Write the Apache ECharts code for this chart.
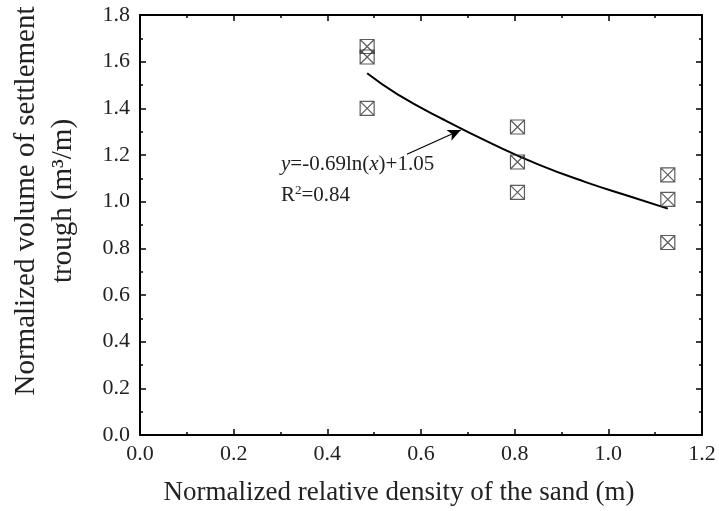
<!DOCTYPE html>
<html>
<head>
<meta charset="utf-8">
<script src="https://cdn.jsdelivr.net/npm/echarts@6/dist/echarts.min.js"></script>
<style>
  html, body { margin: 0; padding: 0; background: #fff; }
  #chart { width: 719px; height: 511px; }
</style>
</head>
<body>
<div id="chart"></div>
<script>
// measured points (x, y)
var xPos = [0.485, 0.485, 0.485, 0.806, 0.806, 0.806, 1.127, 1.127, 1.127];
var yVal = [1.665, 1.62, 1.40, 1.32, 1.17, 1.04, 1.115, 1.01, 0.825];

// fitted curve
var fitX = [0.485, 0.55, 0.65, 0.75, 0.85, 0.95, 1.05, 1.127];
var fitY = [1.55, 1.46, 1.35, 1.25, 1.16, 1.085, 1.02, 0.97];

// arrow pointing at the curve
var arrowFrom = [0.570, 1.203];
var arrowTo = [0.685, 1.307];

var font = 'Liberation Serif';
var boxSymbol = 'path://M0,0L10,0L10,10L0,10ZM0,0L10,10M10,0L0,10';

var chart = echarts.init(document.getElementById('chart'));

var points = xPos.map(function (x, i) { return [x, yVal[i]]; });
var fit = fitX.map(function (x, i) { return [x, fitY[i]]; });

function ticks() {
    return { show: true, inside: true, length: 6, lineStyle: { color: '#000', width: 1.5 } };
}
function minor() {
    return { show: true, splitNumber: 2, length: 3, lineStyle: { color: '#000', width: 1.5 } };
}
function axLine() {
    return { show: true, onZero: false, lineStyle: { color: '#000', width: 2 } };
}
function label() {
    return { fontFamily: font, fontSize: 22, color: '#222',
        formatter: function (v) { return v.toFixed(1); } };
}

var xl = label(); xl.margin = 8;
var yl = label(); yl.margin = 10;

chart.setOption({
    animation: false,
    grid: { left: 138, right: 17, top: 15, bottom: 76 },
    xAxis: [{
        type: 'value', min: 0, max: 1.2, interval: 0.2,
        axisLine: axLine(), axisTick: ticks(), minorTick: minor(),
        splitLine: { show: false },
        axisLabel: xl,
        name: 'Normalized relative density of the sand (m)',
        nameLocation: 'middle', nameGap: 44,
        nameTextStyle: { fontFamily: font, fontSize: 27, color: '#222', padding: [0, 44, 0, 0] }
    }, {
        type: 'value', position: 'top', min: 0, max: 1.2, interval: 0.2,
        axisLine: axLine(), axisTick: ticks(), minorTick: minor(),
        splitLine: { show: false }, axisLabel: { show: false }
    }],
    yAxis: [{
        type: 'value', min: 0, max: 1.8, interval: 0.2,
        axisLine: axLine(), axisTick: ticks(), minorTick: minor(),
        splitLine: { show: false },
        axisLabel: yl,
        name: 'Normalized volume of settlement\ntrough (m\u00b3/m)',
        nameLocation: 'middle', nameGap: 58,
        nameTextStyle: { fontFamily: font, fontSize: 29, color: '#222', lineHeight: 37,
            padding: [0, 0, 0, 48] }
    }, {
        type: 'value', position: 'right', min: 0, max: 1.8, interval: 0.2,
        axisLine: axLine(), axisTick: ticks(), minorTick: minor(),
        splitLine: { show: false }, axisLabel: { show: false }
    }],
    series: [{
        type: 'scatter',
        data: points,
        symbol: boxSymbol,
        symbolSize: 14,
        itemStyle: { color: 'rgba(0,0,0,0)', borderColor: '#333', borderWidth: 1.2 },
        z: 3
    }, {
        type: 'line',
        data: fit,
        smooth: true,
        showSymbol: false,
        lineStyle: { color: '#000', width: 2 },
        markLine: {
            silent: true,
            symbol: ['none', 'arrow'],
            symbolSize: [9, 13],
            label: { show: false },
            lineStyle: { color: '#000', width: 1.2, type: 'solid' },
            data: [[{ coord: arrowFrom }, { coord: arrowTo }]]
        }
    }],
    graphic: [{
        type: 'text', left: 281, top: 154,
        style: {
            text: '{i|y}=-0.69ln({i|x})+1.05',
            font: '21px "Liberation Serif"', fill: '#222',
            rich: { i: { fontStyle: 'italic', fontFamily: font, fontSize: 21 } }
        }
    }, {
        type: 'text', left: 281, top: 184,
        style: {
            text: 'R{s|2}=0.84',
            font: '21px "Liberation Serif"', fill: '#222',
            rich: { s: { fontFamily: font, fontSize: 13, verticalAlign: 'top', padding: [0, 0, 10, 0] } }
        }
    }]
});
</script>
</body>
</html>
